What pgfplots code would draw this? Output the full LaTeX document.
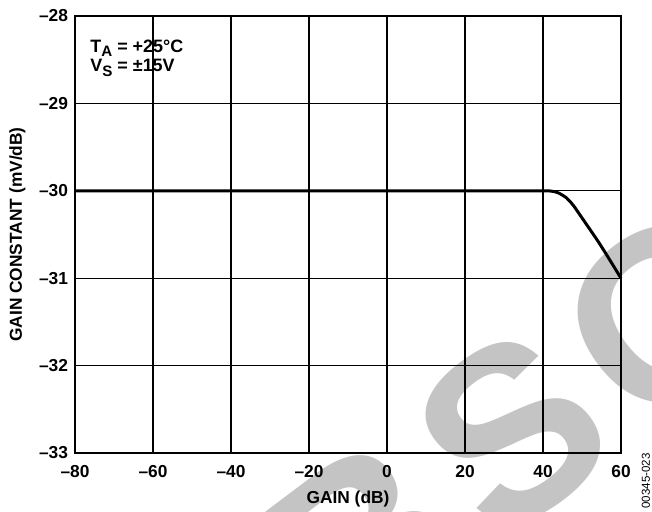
\documentclass[border=0pt]{standalone}
\usepackage{pgfplots}
\pgfplotsset{compat=1.18}
\usepackage{fontspec}
\setmainfont{Liberation Sans}
\newfontfamily\wmfont[LetterSpace=7.8]{Liberation Sans}
\newcommand{\sub}[1]{\raisebox{-2.4bp}{\fontsize{7.6}{8}\selectfont #1}}
\begin{document}
\begin{tikzpicture}
\begin{axis}[
 set layers,
 scale only axis, width=273bp, height=218.5bp,
 xmin=-80,xmax=60,ymin=-33,ymax=-28,
 xtick={-80,-60,...,60}, xticklabels={–80,–60,–40,–20,0,20,40,60},
 ytick={-33,-32,...,-28}, yticklabels={–33,–32,–31,–30,–29,–28},
 grid=major, major grid style={black, line width=0.65bp},
 axis line style={black,line width=1bp},
 major tick length=0pt,
 tick label style={font=\fontsize{8.7}{10}\selectfont\bfseries},
 xticklabel style={yshift=-2.5bp},
 xlabel={GAIN (dB)}, ylabel={GAIN CONSTANT (mV/dB)},
 label style={font=\fontsize{8.7}{10}\selectfont\bfseries},
 clip=false,
]
\begin{pgfonlayer}{axis background}
\node[rotate=37, anchor=base west, text=black!23, font=\wmfont\fontsize{122}{122}\selectfont\bfseries, inner sep=0pt] at (rel axis cs:0.184,-0.772) {OBSOLETE};
\end{pgfonlayer}
\addplot[black, line width=1.5bp] coordinates {
(-80,-30) (41,-30) (42,-30.003) (43,-30.01) (44,-30.025) (45,-30.05) (46,-30.08) (47,-30.125) (48,-30.18) (50,-30.31) (52,-30.44) (54,-30.57) (56,-30.71) (58,-30.855) (60,-31)};
\node[anchor=north west, align=left, inner sep=0pt, font=\fontsize{9}{10}\selectfont\bfseries] at (rel axis cs:0.0275,0.947) {T\sub{A} = +25°C\\V\sub{S} = ±15V};
\node[rotate=90, font=\fontsize{5.8}{7}\selectfont, inner sep=0pt] at (rel axis cs:1.0458,-0.064) {00345-023};
\coordinate (BL) at (rel axis cs:-0.1374,-0.135);
\coordinate (TR) at (rel axis cs:1.0568,1.0366);
\end{axis}
\pgfresetboundingbox
\useasboundingbox (BL) rectangle (TR);
\end{tikzpicture}
\end{document}
